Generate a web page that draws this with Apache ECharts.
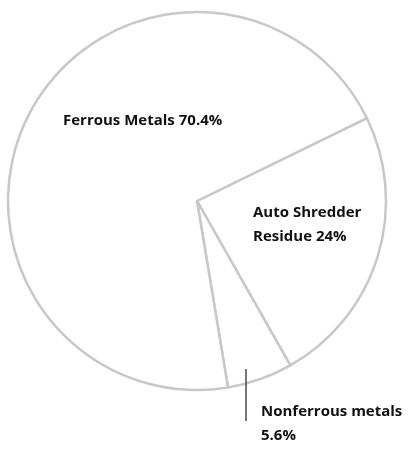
<!DOCTYPE html>
<html>
<head>
<meta charset="utf-8">
<script src="https://cdn.jsdelivr.net/npm/echarts@6/dist/echarts.min.js"></script>
<style>
  html, body { margin: 0; padding: 0; background: #fff; }
  #main { width: 408px; height: 449px; }
</style>
</head>
<body>
<div id="main"></div>
<script>
// slice order goes clockwise from the upper right cut
var names = ['Auto Shredder Residue', 'Nonferrous metals', 'Ferrous Metals'];
var values = [24, 5.6, 70.4];
var labelText = ['Auto Shredder\nResidue 24%', 'Nonferrous metals\n5.6%', 'Ferrous Metals 70.4%'];

var chart = echarts.init(document.getElementById('main'));

var pieData = values.map(function (v, i) {
    return { name: names[i], value: v };
});

var option = {
    animation: false,
    backgroundColor: '#fff',
    graphic: [
        // leader line for the small slice
        {
            type: 'line',
            z: 100,
            shape: { x1: 246, y1: 369, x2: 246, y2: 421 },
            style: { stroke: '#4a4a4a', lineWidth: 1.5 }
        }
    ],
    series: [
        {
            type: 'pie',
            center: [197, 201],
            radius: 189,
            startAngle: 26,
            clockwise: true,
            data: pieData,
            itemStyle: {
                color: '#fff',
                borderColor: '#c8c8ca',
                borderWidth: 2.5
            },
            emphasis: { disabled: true },
            label: {
                show: true,
                position: 'inside',
                formatter: function (p) { return labelText[p.dataIndex]; },
                color: '#111',
                fontFamily: 'Open Sans',
                fontWeight: 'bold',
                fontSize: 15,
                lineHeight: 24
            },
            labelLine: { show: false },
            labelLayout: function (p) {
                if (p.dataIndex === 0) return { x: 253, y: 225, align: 'left', verticalAlign: 'middle' };
                if (p.dataIndex === 1) return { x: 261, y: 424, align: 'left', verticalAlign: 'middle' };
                return { x: 63, y: 121, align: 'left', verticalAlign: 'middle' };
            }
        }
    ]
};

chart.setOption(option);
</script>
</body>
</html>
